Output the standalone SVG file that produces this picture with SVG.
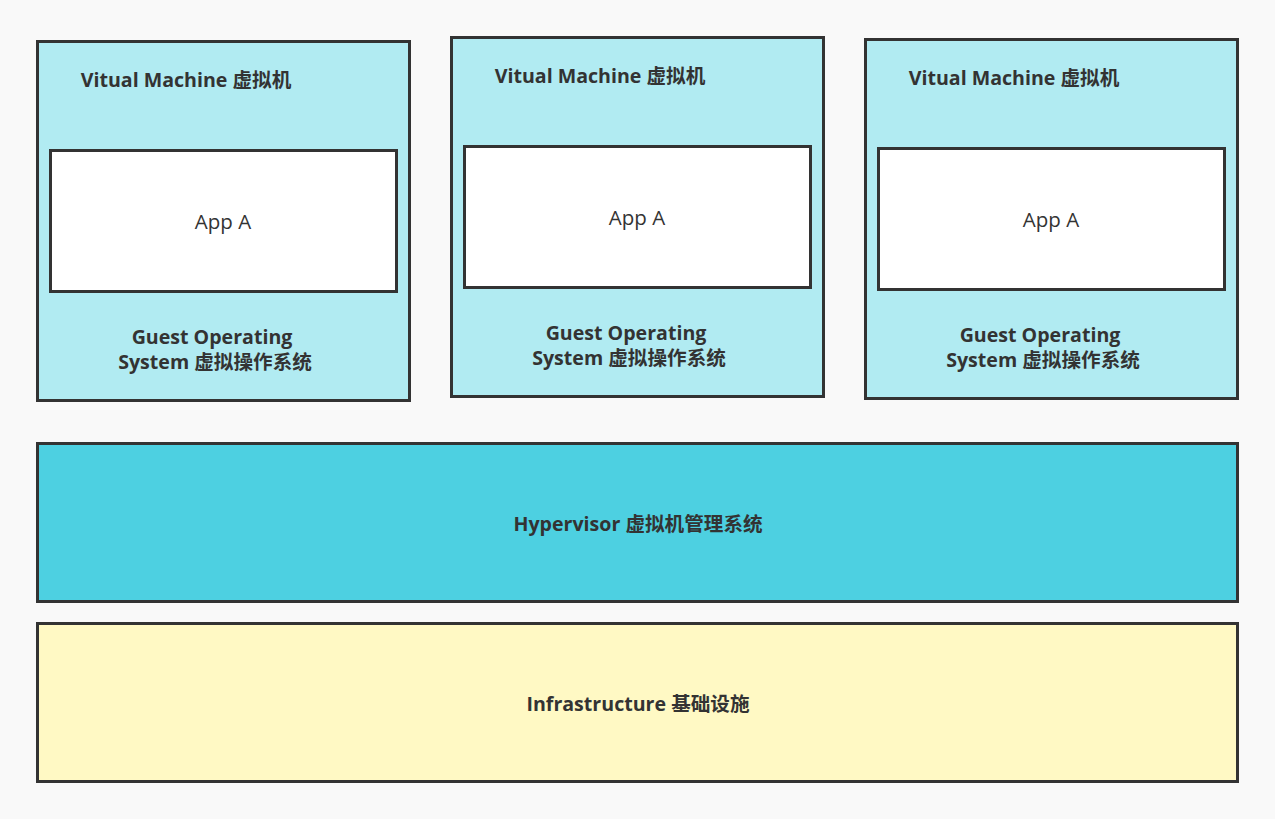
<svg xmlns="http://www.w3.org/2000/svg" width="1275" height="819" viewBox="0 0 1275 819">
<style>
.vm{fill:#b1ebf2;stroke:#333;stroke-width:3}
.app{fill:#fff;stroke:#333;stroke-width:3}
.hyp{fill:#4dd0e1;stroke:#333;stroke-width:3}
.inf{fill:#fff9c4;stroke:#333;stroke-width:3}
text{font-family:"Open Sans","Noto Sans CJK SC",sans-serif;fill:#333;text-anchor:middle;dominant-baseline:central}
.b{font-weight:bold;font-size:19.6px}
.r{font-size:20.5px}
</style>
<rect x="0" y="0" width="1275" height="819" fill="#f9f9f9"/>
<g id="vm1">
<rect class="vm" x="37.5" y="41.5" width="372" height="359"/>
<text class="b" x="186" y="79">Vitual Machine 虚拟机</text>
<rect class="app" x="50.5" y="150.5" width="346" height="141"/>
<text class="r" x="223" y="221">App A</text>
<text class="b" x="212" y="336">Guest Operating</text>
<text class="b" x="215" y="361">System 虚拟操作系统</text>
</g>
<g id="vm2">
<rect class="vm" x="451.5" y="37.5" width="372" height="359"/>
<text class="b" x="600" y="75">Vitual Machine 虚拟机</text>
<rect class="app" x="464.5" y="146.5" width="346" height="141"/>
<text class="r" x="637" y="217">App A</text>
<text class="b" x="626" y="332">Guest Operating</text>
<text class="b" x="629" y="357">System 虚拟操作系统</text>
</g>
<g id="vm3">
<rect class="vm" x="865.5" y="39.5" width="372" height="359"/>
<text class="b" x="1014" y="77">Vitual Machine 虚拟机</text>
<rect class="app" x="878.5" y="148.5" width="346" height="141"/>
<text class="r" x="1051" y="219">App A</text>
<text class="b" x="1040" y="334">Guest Operating</text>
<text class="b" x="1043" y="359">System 虚拟操作系统</text>
</g>
<g id="hypervisor">
<rect class="hyp" x="37.5" y="443.5" width="1200" height="158"/>
<text class="b" x="638" y="523">Hypervisor 虚拟机管理系统</text>
</g>
<g id="infrastructure">
<rect class="inf" x="37.5" y="623.5" width="1200" height="158"/>
<text class="b" x="638" y="703">Infrastructure 基础设施</text>
</g>
<g id="connectors"></g>
</svg>
